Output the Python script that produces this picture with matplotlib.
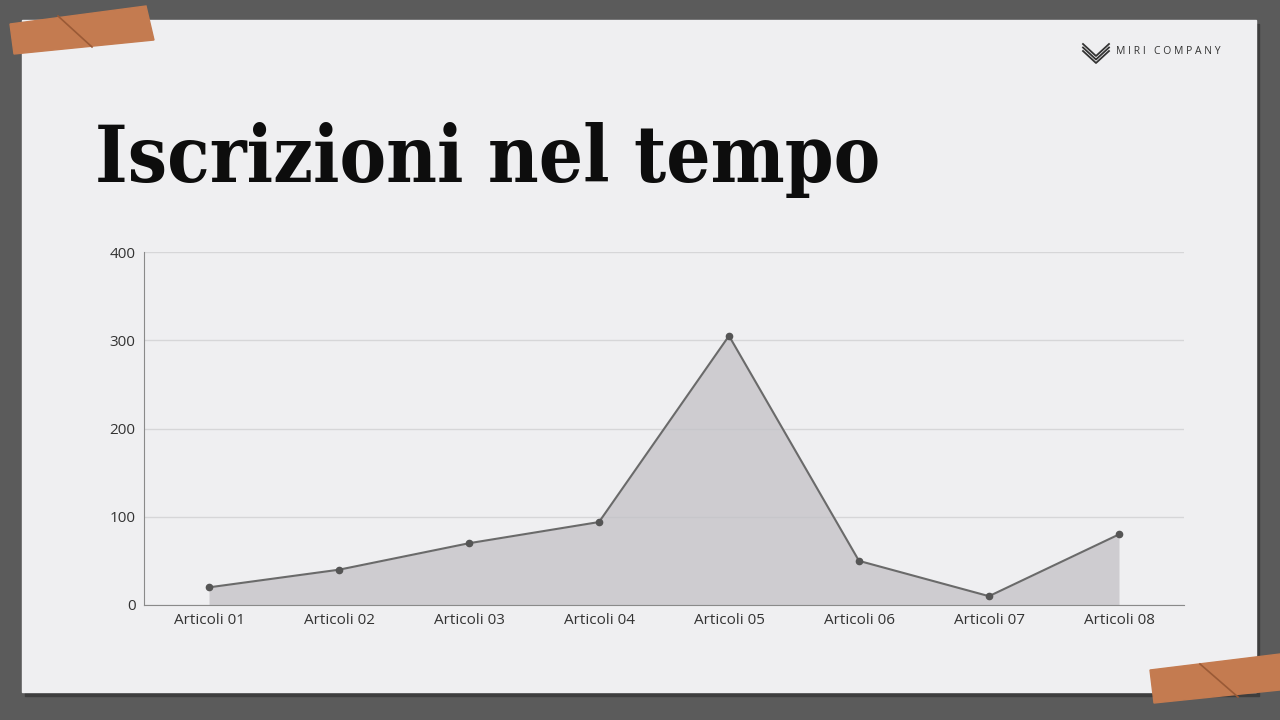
import matplotlib.pyplot as plt
from matplotlib.patches import Rectangle, Polygon
import numpy as np

categories = ["Articoli 01", "Articoli 02", "Articoli 03", "Articoli 04",
              "Articoli 05", "Articoli 06", "Articoli 07", "Articoli 08"]
iscrizioni = [20, 40, 70, 94, 305, 50, 10, 80]
yticks = [0, 100, 200, 300, 400]

W, H = 1280, 720
fig = plt.figure(figsize=(12.8, 7.2), dpi=100)
fig.patch.set_facecolor('#5b5b5b')

def fx(px):
    return px / W

def fy(py):
    return 1 - py / H

# paper sheet with a faint shadow
fig.patches.append(Rectangle((fx(25), fy(696)), fx(1234), 672 / H,
                             transform=fig.transFigure, color='#3e3e3e', zorder=-3))
fig.patches.append(Rectangle((fx(22), fy(692)), fx(1234), 672 / H,
                             transform=fig.transFigure, color='#efeff1', zorder=-2))

# tape pieces
tape1 = [(10, 24), (146, 6), (154, 40), (14, 54)]
tape2 = [(1150, 670), (1280, 654), (1280, 690), (1154, 703)]
for pts in (tape1, tape2):
    fig.patches.append(Polygon([(fx(x), fy(y)) for x, y in pts], closed=True,
                               transform=fig.transFigure, color='#c47b50', zorder=5))
fig.lines.append(plt.Line2D([fx(58), fx(92)], [fy(16), fy(47)], transform=fig.transFigure,
                            color='#9a5a36', lw=1.2, zorder=6))
fig.lines.append(plt.Line2D([fx(1200), fx(1238)], [fy(664), fy(697)], transform=fig.transFigure,
                            color='#9a5a36', lw=1.2, zorder=6))

# title
fig.text(fx(95), fy(160), "Iscrizioni nel tempo", fontsize=56, fontweight='bold',
         family='DejaVu Serif', fontstretch='condensed', color='#0d0d0d',
         va='center', ha='left')

# logo
fig.text(fx(1116), fy(51), "M I R I   C O M P A N Y", fontsize=7.5, family='Open Sans',
         color='#333333', va='center', ha='left')
for k in range(3):
    off = k * 3.5
    fig.lines.append(plt.Line2D([fx(1083), fx(1096), fx(1109)],
                                [fy(44 + off), fy(56 + off), fy(44 + off)],
                                transform=fig.transFigure, color='#333333', lw=1.3))

ax = fig.add_axes([fx(144), fy(605), fx(1184) - fx(144), fy(252) - fy(605)])
ax.set_zorder(1)
ax.set_facecolor('none')
x = np.arange(len(categories))
ax.fill_between(x, iscrizioni, 0, color='#c3c1c6', alpha=0.75, zorder=2, lw=0)
ax.plot(x, iscrizioni, color='#6a6a6a', lw=1.5, marker='o', markersize=4.5,
        markerfacecolor='#555555', markeredgecolor='#555555', zorder=3)

ax.set_xlim(-0.5, len(categories) - 0.5)
ax.set_ylim(0, 400)
ax.set_yticks(yticks)
ax.set_xticks(x)
ax.set_xticklabels(categories)
ax.yaxis.grid(True, color='#d6d6d8', lw=1)
ax.set_axisbelow(True)
for s in ['top', 'right']:
    ax.spines[s].set_visible(False)
ax.spines['left'].set_color('#8a8a8a')
ax.spines['bottom'].set_color('#8a8a8a')
ax.tick_params(length=0, labelsize=11, colors='#333333', pad=6)
for lab in ax.get_xticklabels() + ax.get_yticklabels():
    lab.set_family('Open Sans')

fig.savefig('out.png', dpi=100, facecolor=fig.get_facecolor())
